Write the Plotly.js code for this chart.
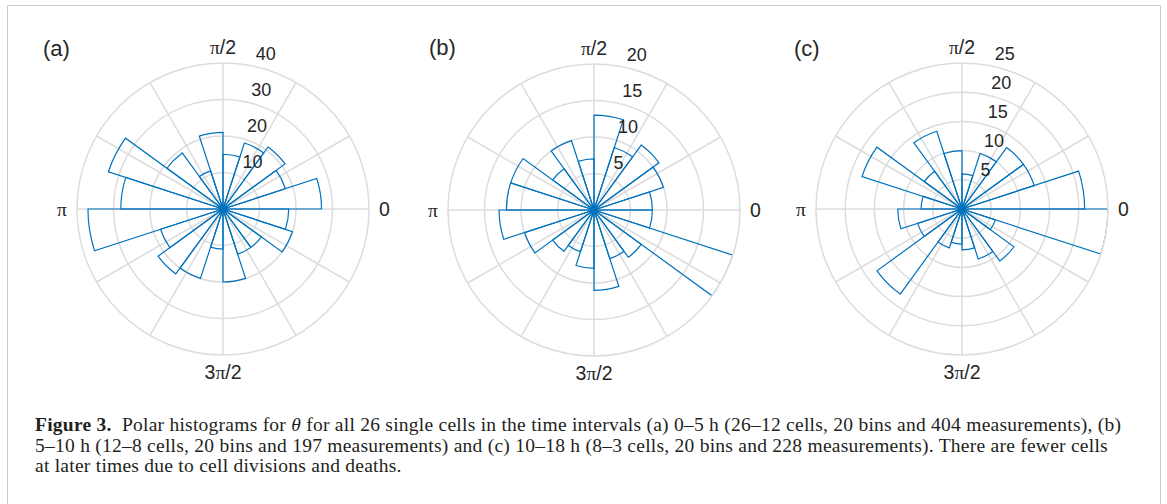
<!DOCTYPE html>
<html>
<head>
<meta charset="utf-8">
<script src="https://cdn.plot.ly/plotly-3.0.1.min.js"></script>
<style>
  html, body { margin: 0; padding: 0; background: #ffffff; overflow: hidden; }
  #wrap { position: relative; width: 1167px; height: 504px; overflow: hidden; background: #fff; }
  #frame { position: absolute; left: 7px; top: 5px; width: 1154px; height: 520px;
           border: 1.5px solid #cccccc; box-sizing: border-box; }
  #chart { position: absolute; left: 0; top: 0; width: 1167px; height: 504px; }
  #caption { position: absolute; left: 35px; top: 415px; font-family: 'Liberation Serif', 'DejaVu Serif', serif;
             font-size: 19.5px; line-height: 20.5px; letter-spacing: 0.25px; color: #231f20; white-space: nowrap; }
</style>
</head>
<body>
<div id="wrap">
  <div id="frame"></div>
  <div id="chart"></div>
  <div id="caption"></div>
</div>
<script>
// ---- Data (counts per 18° bin, starting at 0 rad, counter-clockwise) ----
const countsA = [27, 18, 21, 19, 15, 21, 11, 19, 33, 28, 37, 18, 22, 20, 11, 20, 13, 13, 20, 18]; // 404 measurements
const countsB = [8, 10, 11, 9, 13, 7, 10, 7, 12, 12, 13, 10, 7, 6, 8, 11, 7, 8, 20, 8];            // 197 measurements
const countsC = [21, 13, 13, 10, 6, 10, 14, 8, 18, 7, 11, 8, 18, 7, 6, 7, 9, 11, 6, 25];           // 228 measurements

const panelLabels = ['(a)', '(b)', '(c)'];
const radialTicksA = [10, 20, 30, 40];
const radialTicksB = [5, 10, 15, 20];
const radialTicksC = [5, 10, 15, 20, 25];

const angleTickVals = [0, 30, 60, 90, 120, 150, 180, 210, 240, 270, 300, 330];
const PI = '<span style="font-family:Liberation Serif">π</span>';
const NB = '\u00a0';
const angleTickText = [NB + '0', '', '', PI + '/2', '', '', PI + NB, '', '', '3' + PI + '/2', '', ''];

const captionLines = [
  '<b>Figure 3.</b>&nbsp; Polar histograms for <i>θ</i> for all 26 single cells in the time intervals (a) 0–5 h (26–12 cells, 20 bins and 404 measurements), (b)',
  '5–10 h (12–8 cells, 20 bins and 197 measurements) and (c) 10–18 h (8–3 cells, 20 bins and 228 measurements). There are fewer cells',
  'at later times due to cell divisions and deaths.'
];

// ---- Styling ----
const W = 1167, H = 504;
const BLUE = '#0072BD';
const GRID = '#dcdcdc';
const TXT = '#262626';
const FONT = 'Liberation Sans, Arial, sans-serif';
const nBins = countsA.length;
const binWidth = 360 / nBins;
const RLABEL_ANGLE = 83;   // direction along which the radial tick labels sit
const RLABEL_PAD = NB + NB + NB;

function thetas(counts) { return counts.map((_, i) => (i + 0.5) * binWidth); }

function barTrace(counts, sub) {
  return {
    type: 'barpolar',
    r: counts,
    theta: thetas(counts),
    width: counts.map(() => binWidth),
    subplot: sub,
    marker: { color: 'rgba(0,0,0,0)', line: { color: BLUE, width: 1.2 } },
    hoverinfo: 'r+theta',
    showlegend: false
  };
}

// radial tick labels placed through the polar scale at each tick value
function rLabelTrace(ticks, sub) {
  return {
    type: 'scatterpolar',
    mode: 'text',
    r: ticks,
    theta: ticks.map(() => RLABEL_ANGLE),
    text: ticks.map(t => RLABEL_PAD + t),
    textposition: 'top right',
    textfont: { family: FONT, size: 18, color: TXT },
    cliponaxis: false,
    subplot: sub,
    hoverinfo: 'skip',
    showlegend: false
  };
}

// square domains: radius 146 px around each centre
function dom(cx, cy, rad) {
  return { x: [(cx - rad) / W, (cx + rad) / W], y: [(H - cy - rad) / H, (H - cy + rad) / H] };
}

function polar(d, ticks) {
  return {
    domain: d,
    bgcolor: 'rgba(0,0,0,0)',
    radialaxis: {
      range: [0, ticks[ticks.length - 1]],
      tickvals: ticks,
      angle: RLABEL_ANGLE,
      showticklabels: false,
      showline: false,
      ticks: '',
      gridcolor: GRID,
      gridwidth: 1.5
    },
    angularaxis: {
      direction: 'counterclockwise',
      rotation: 0,
      tickvals: angleTickVals,
      ticktext: angleTickText,
      ticks: '',
      showline: true,
      linecolor: GRID,
      linewidth: 1.5,
      gridcolor: GRID,
      gridwidth: 1.5,
      tickfont: { family: FONT, size: 19.5, color: TXT }
    }
  };
}

const labelPos = [[57, 48], [442, 47], [807, 48]];

const layout = {
  width: W, height: H,
  margin: { l: 0, r: 0, t: 0, b: 0 },
  paper_bgcolor: 'rgba(0,0,0,0)',
  polar: polar(dom(223, 209, 146), radialTicksA),
  polar2: polar(dom(594, 210, 146), radialTicksB),
  polar3: polar(dom(962, 209, 146), radialTicksC),
  annotations: panelLabels.map((t, i) => ({
    text: t, xref: 'paper', yref: 'paper',
    x: labelPos[i][0] / W, y: 1 - labelPos[i][1] / H,
    xanchor: 'center', yanchor: 'middle', showarrow: false,
    font: { family: FONT, size: 22, color: TXT }
  }))
};

Plotly.newPlot('chart', [
  rLabelTrace(radialTicksA, 'polar'), rLabelTrace(radialTicksB, 'polar2'), rLabelTrace(radialTicksC, 'polar3'),
  barTrace(countsA, 'polar'), barTrace(countsB, 'polar2'), barTrace(countsC, 'polar3')
], layout, { staticPlot: true, displayModeBar: false });

document.getElementById('caption').innerHTML = captionLines.join('<br>');
</script>
</body>
</html>
